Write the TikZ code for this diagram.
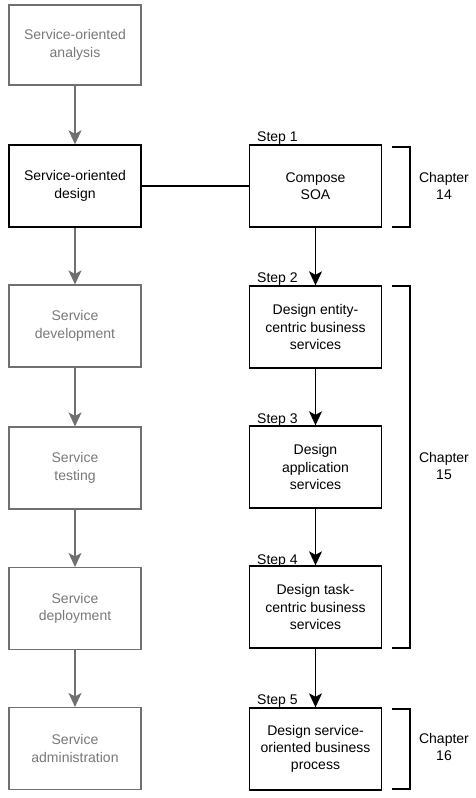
\documentclass[tikz,border=0pt]{standalone}
\usepackage{fontspec}
\setmainfont{Liberation Sans}
\usetikzlibrary{arrows.meta}
\definecolor{greyline}{HTML}{707070}
\definecolor{greytext}{HTML}{787878}
\tikzset{
  box/.style={draw, rectangle, minimum width=132pt, minimum height=82pt, align=center, font=\fontsize{14pt}{17.3pt}\selectfont, inner sep=0pt},
  greybox/.style={box, draw=greyline, text=greytext, line width=1.1pt},
  blackbox/.style={box, draw=black, text=black, line width=1.4pt},
  greyarrow/.style={draw=greyline, line width=1.4pt, -{Stealth[length=14pt,width=13pt,inset=3.5pt]}},
  blackarrow/.style={draw=black, line width=1.4pt, -{Stealth[length=14pt,width=13pt,inset=3.5pt]}},
  steplabel/.style={anchor=base west, inner sep=0pt, font=\fontsize{14pt}{17pt}\selectfont},
  chaplabel/.style={align=center, inner sep=0pt, font=\fontsize{14pt}{17.3pt}\selectfont},
  bracket/.style={draw=black, line width=1.3pt}
}
\begin{document}
\begin{tikzpicture}[x=1pt,y=-1pt]
\useasboundingbox (0,0) rectangle (476,798);
% left column
\node[greybox, minimum height=80pt] (a1) at (75,45) {Service-oriented\\analysis};
\node[blackbox] (a2) at (75,186) {Service-oriented\\design};
\node[greybox] (a3) at (75,326) {Service\\development};
\node[greybox] (a4) at (75,468) {Service\\testing};
\node[greybox] (a5) at (75,608.5) {Service\\deployment};
\node[greybox] (a6) at (75,748.5) {Service\\administration};
\draw[greyarrow] (a1) -- (a2);
\draw[greyarrow] (a2) -- (a3);
\draw[greyarrow] (a3) -- (a4);
\draw[greyarrow] (a4) -- (a5);
\draw[greyarrow] (a5) -- (a6);
% right column
\node[blackbox] (b1) at (315.5,186) {Compose\\SOA};
\node[blackbox] (b2) at (315.5,327) {Design entity-\\centric business\\services};
\node[blackbox] (b3) at (315.5,467) {Design\\application\\services};
\node[blackbox] (b4) at (315.5,607) {Design task-\\centric business\\services};
\node[blackbox] (b5) at (315.5,749) {Design service-\\oriented business\\process};
\draw[black, line width=1.3pt] (a2) -- (b1);
\draw[blackarrow] (b1) -- (b2);
\draw[blackarrow] (b2) -- (b3);
\draw[blackarrow] (b3) -- (b4);
\draw[blackarrow] (b4) -- (b5);
% step labels
\node[steplabel] (s1) at (257,141) {Step 1};
\node[steplabel] (s2) at (257,282) {Step 2};
\node[steplabel] (s3) at (257,423) {Step 3};
\node[steplabel] (s4) at (257,564) {Step 4};
\node[steplabel] (s5) at (257,704) {Step 5};
% brackets
\draw[bracket] (392,147) -- (410,147) -- (410,227) -- (392,227);
\draw[bracket] (392,286) -- (410,286) -- (410,648) -- (392,648);
\draw[bracket] (392,709) -- (410,709) -- (410,789) -- (392,789);
\node[chaplabel] (c14) at (444,186) {Chapter\\14};
\node[chaplabel] (c15) at (444,466) {Chapter\\15};
\node[chaplabel] (c16) at (444,747) {Chapter\\16};
\end{tikzpicture}
\end{document}
